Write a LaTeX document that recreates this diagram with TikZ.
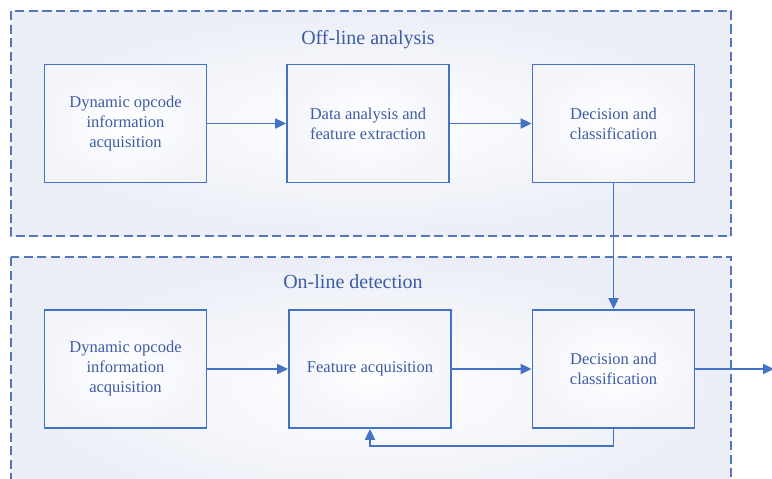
\documentclass[tikz,border=0pt]{standalone}
\usepackage{fontspec}
\setmainfont{Liberation Serif}
\usetikzlibrary{arrows.meta}
\definecolor{linecol}{RGB}{68,114,196}
\definecolor{dashcol}{RGB}{86,118,188}
\definecolor{txtcol}{RGB}{62,92,164}
\definecolor{panelbg}{RGB}{235,238,247}
\definecolor{boxbg}{RGB}{243,245,251}
\tikzset{
  panel/.style={draw=dashcol, line width=1.6pt, dash pattern=on 9pt off 4.5pt,
    inner color=white, outer color=panelbg},
  stepbox/.style={draw=linecol, line width=1.8pt, inner color=white, outer color=boxbg,
    minimum width=162pt, minimum height=118pt, inner sep=0pt, align=center,
    text=txtcol, font=\fontsize{16.5}{20}\selectfont},
  paneltitle/.style={text=txtcol, font=\fontsize{20}{24}\selectfont, inner sep=0pt},
  flow/.style={draw=linecol, line width=1.9pt, -{Triangle[length=11pt,width=10pt]}}
}
\begin{document}
\begin{tikzpicture}[x=1pt,y=-1pt]
  \useasboundingbox (0,0) rectangle (772,479);
  \clip (0,0) rectangle (772,479);
  \fill[white] (0,0) rectangle (772,479);

  % dashed panels
  \shade[panel] (11,11) rectangle (731,236);
  \shade[panel] (11,257) rectangle (731,520);
  \node[paneltitle] (offt) at (368,40) {Off-line analysis};
  \node[paneltitle] (ont) at (353,282) {On-line detection};

  % off-line stage
  \node[stepbox] (a1) at (125.5,123.5) {Dynamic opcode\\information\\acquisition};
  \node[stepbox] (a2) at (368,123.5) {Data analysis and\\feature extraction};
  \node[stepbox] (a3) at (613.5,123.5) {Decision and\\classification};

  % on-line stage
  \node[stepbox] (b1) at (125.5,369) {Dynamic opcode\\information\\acquisition};
  \node[stepbox] (b2) at (370,369) {Feature acquisition};
  \node[stepbox] (b3) at (613.5,369) {Decision and\\classification};

  \coordinate (out) at (774,369);
  \coordinate (fbR) at (b3.south |- 0,446);
  \coordinate (fbL) at (370,446);

  \draw[flow] (a1) -- (a2);
  \draw[flow] (a2) -- (a3);
  \draw[flow] (a3) -- (b3);
  \draw[flow] (b1) -- (b2);
  \draw[flow] (b2) -- (b3);
  \draw[flow] (b3) -- (out);
  \draw[flow] (b3.south) -- (fbR) -- (fbL) -- (fbL |- b2.south);
\end{tikzpicture}
\end{document}
